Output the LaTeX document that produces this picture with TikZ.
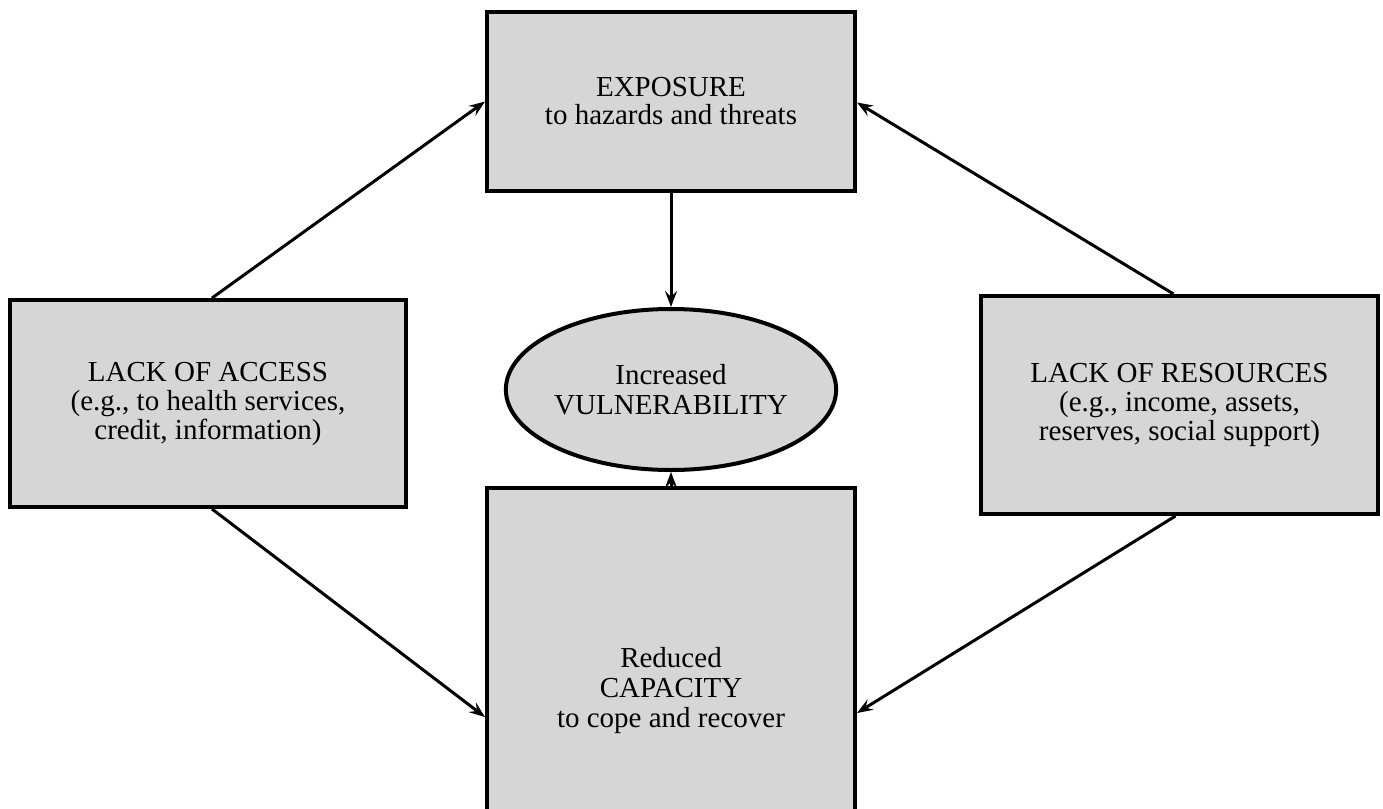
\documentclass[tikz,border=0pt]{standalone}
\usepackage{fontspec}
\setmainfont{Liberation Serif}
\usetikzlibrary{arrows.meta,shapes.geometric}
\definecolor{boxgray}{RGB}{214,214,214}
\begin{document}
\begin{tikzpicture}[x=1pt,y=-1pt,
  box/.style={draw=black,line width=4pt,fill=boxgray,rectangle,inner sep=0pt,align=center,
    font=\fontsize{29}{29}\selectfont},
  oval/.style={draw=black,line width=4pt,fill=boxgray,ellipse,inner sep=0pt,align=center,
    font=\fontsize{29}{30}\selectfont},
  arr/.style={line width=3pt,-{Stealth[length=16pt,width=12pt,inset=6pt]}}]
\useasboundingbox[fill=white] (0,0) rectangle (1383,808);
\node[box,font=\fontsize{29}{28}\selectfont,minimum width=368pt,minimum height=179pt] (exp) at (671,101.5) {EXPOSURE\\to hazards and threats};
\node[box,minimum width=396pt,minimum height=207pt] (acc) at (208,403.5) {LACK OF ACCESS\\(e.g., to health services,\\credit, information)};
\node[box,minimum width=397pt,minimum height=218pt] (res) at (1179.5,405) {LACK OF RESOURCES\\(e.g., income, assets,\\reserves, social support)};
\node[box,font=\fontsize{29}{30}\selectfont,minimum width=368pt,minimum height=406pt] (cap) at (671,691) {Reduced\\CAPACITY\\to cope and recover};
\node[oval,minimum width=312pt,minimum height=161pt] (vul) at (671,389.5) {Increased\\VULNERABILITY};
\draw[arr] ([xshift=4pt]acc.north) -- (exp.west);
\draw[arr] ([xshift=-6pt]res.north) -- ([yshift=-1pt]exp.east);
\draw[arr] (exp.south) -- (vul.north);
\draw[arr] (cap.north) -- (vul.south);
\draw[arr] ([xshift=4pt]acc.south) -- ([yshift=-26pt]cap.west);
\draw[arr] ([xshift=-4pt]res.south) -- ([yshift=-22pt]cap.east);
\end{tikzpicture}
\end{document}
